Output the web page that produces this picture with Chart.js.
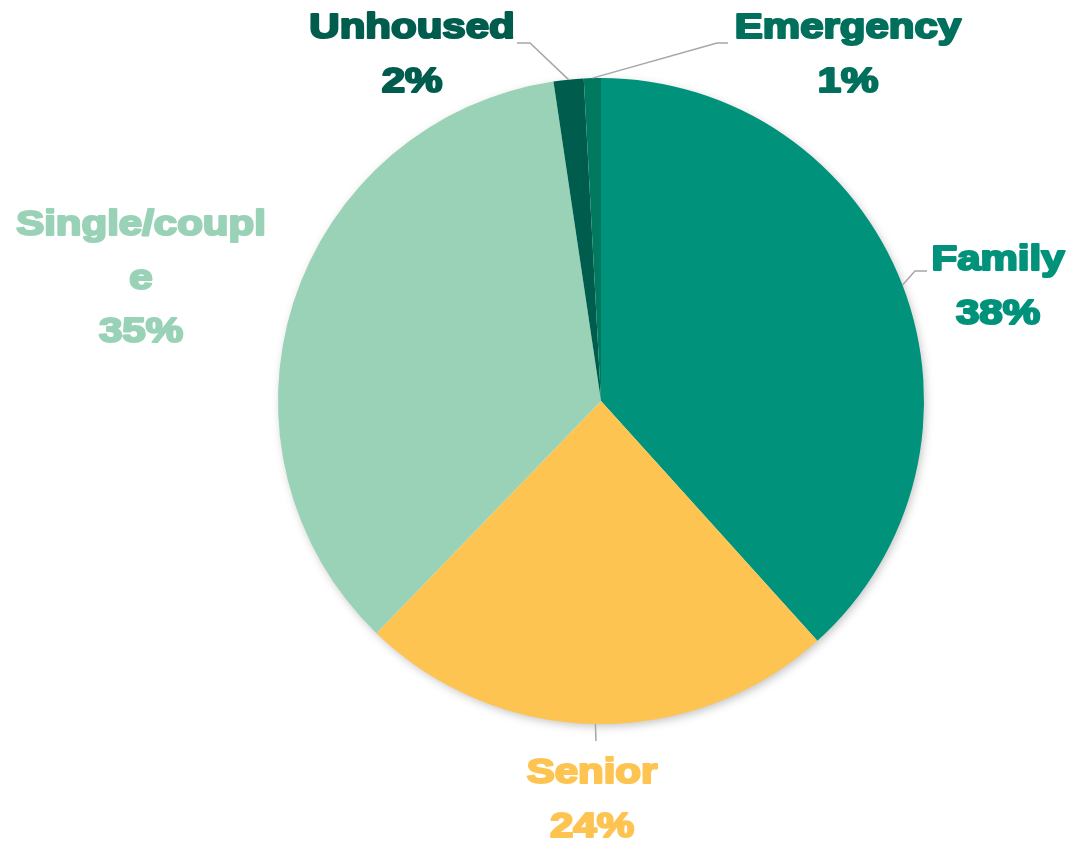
<!DOCTYPE html>
<html>
<head>
<meta charset="utf-8">
<script src="https://cdn.jsdelivr.net/npm/chart.js@4"></script>
<style>
html,body{margin:0;padding:0;background:#fff;}
#wrap{width:1092px;height:842px;position:relative;}
</style>
</head>
<body>
<div id="wrap"><canvas id="c" width="1092" height="842"></canvas></div>
<script>
const categories = ['Family', 'Senior', 'Single/couple', 'Unhoused', 'Emergency'];
const shares = [38.3, 23.9, 35.4, 1.5, 0.85];
const labelLines = [['Family'], ['Senior'], ['Single/coupl', 'e'], ['Unhoused'], ['Emergency']];
const sliceColors = ['#00927A', '#FDC452', '#99D2B6', '#005D4E', '#00795F'];
const labelColors = ['#00927A', '#FDC452', '#99D2B6', '#005D4E', '#00705C'];

// label layout (screen px): text centre x, first baseline, leader elbow & end
const labelLayout = [
  {x: 998, y: 270, elbow: [915, 271], end: [927, 271]},
  {x: 592, y: 783, elbow: null, end: [596, 741]},
  {x: 141, y: 235, elbow: null, end: null},
  {x: 412, y: 38, elbow: [530, 43], end: [517, 43]},
  {x: 848, y: 38, elbow: [717, 43], end: [728, 43]}
];
const lineGap = 53.5;

const total = shares.reduce((a, b) => a + b, 0);

const shadowPlugin = {
  id: 'shadow',
  beforeDatasetsDraw(chart) {
    const arc = chart.getDatasetMeta(0).data[0];
    if (!arc) return;
    const ctx = chart.ctx;
    ctx.save();
    ctx.shadowColor = 'rgba(0,0,0,0.25)';
    ctx.shadowBlur = 10;
    ctx.shadowOffsetX = 2;
    ctx.shadowOffsetY = 3;
    ctx.fillStyle = '#ffffff';
    ctx.beginPath();
    ctx.arc(arc.x, arc.y, arc.outerRadius - 1, 0, Math.PI * 2);
    ctx.fill();
    ctx.restore();
  }
};

function heavyText(ctx, txt, x, y, color) {
  ctx.save();
  ctx.translate(x, y);
  ctx.scale(1.2, 1);
  ctx.font = 'bold 35px "Liberation Sans", Arial, sans-serif';
  ctx.textAlign = 'center';
  ctx.textBaseline = 'alphabetic';
  ctx.fillStyle = color;
  ctx.strokeStyle = color;
  ctx.lineWidth = 2.2;
  ctx.lineJoin = 'round';
  ctx.fillText(txt, 0, 0);
  ctx.strokeText(txt, 0, 0);
  ctx.restore();
}

const labelPlugin = {
  id: 'outLabels',
  afterDatasetsDraw(chart) {
    const ctx = chart.ctx;
    const meta = chart.getDatasetMeta(0);
    meta.data.forEach((arc, i) => {
      const L = labelLayout[i];
      const mid = (arc.startAngle + arc.endAngle) / 2;
      const sx = arc.x + Math.cos(mid) * arc.outerRadius;
      const sy = arc.y + Math.sin(mid) * arc.outerRadius;
      if (L.end) {
        ctx.save();
        ctx.strokeStyle = '#A6A6A6';
        ctx.lineWidth = 1.5;
        ctx.beginPath();
        ctx.moveTo(sx, sy);
        if (L.elbow) ctx.lineTo(L.elbow[0], L.elbow[1]);
        ctx.lineTo(L.end[0], L.end[1]);
        ctx.stroke();
        ctx.restore();
      }
      const lines = labelLines[i].slice();
      lines.push(Math.round(shares[i] / total * 100) + '%');
      lines.forEach((t, k) => heavyText(ctx, t, L.x, L.y + k * lineGap, labelColors[i]));
    });
  }
};

new Chart(document.getElementById('c'), {
  type: 'pie',
  data: {
    labels: categories,
    datasets: [{
      data: shares,
      backgroundColor: sliceColors,
      borderWidth: 0,
      hoverOffset: 0
    }]
  },
  options: {
    responsive: false,
    animation: false,
    layout: {padding: {left: 278, right: 168, top: 78, bottom: 118}},
    plugins: {legend: {display: false}, tooltip: {enabled: false}}
  },
  plugins: [shadowPlugin, labelPlugin]
});
</script>
</body>
</html>
